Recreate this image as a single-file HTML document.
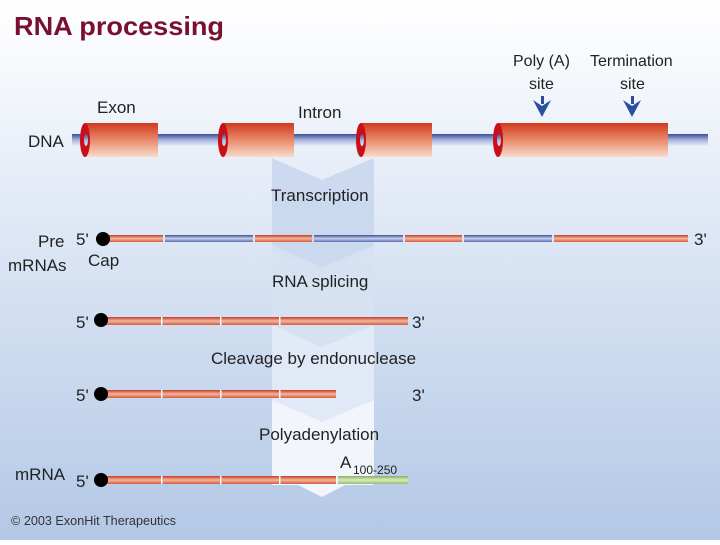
<!DOCTYPE html>
<html><head><meta charset="utf-8"><style>
html,body{margin:0;padding:0}
body{width:720px;height:540px;overflow:hidden}
text{font-family:"Liberation Sans",sans-serif}
</style></head><body>
<svg width="720" height="540" viewBox="0 0 720 540" xmlns="http://www.w3.org/2000/svg">
<defs>
<linearGradient id="bg" x1="0" y1="0" x2="0" y2="1">
<stop offset="0" stop-color="#ffffff"/><stop offset="0.15" stop-color="#f4f7fc"/><stop offset="0.5" stop-color="#d8e3f3"/><stop offset="1" stop-color="#b3c8e6"/></linearGradient>
<linearGradient id="cyl" x1="0" y1="0" x2="0" y2="1">
<stop offset="0" stop-color="#d03a1e"/><stop offset="0.5" stop-color="#e9896b"/><stop offset="1" stop-color="#f8dccc"/></linearGradient>
<linearGradient id="tube" x1="0" y1="0" x2="0" y2="1">
<stop offset="0" stop-color="#3a4f9a"/><stop offset="0.5" stop-color="#a8b4dc"/><stop offset="1" stop-color="#e8ecf8"/></linearGradient>
<linearGradient id="rr" x1="0" y1="0" x2="0" y2="1">
<stop offset="0" stop-color="#c83a20"/><stop offset="0.5" stop-color="#f0b8a0"/><stop offset="1" stop-color="#d85a3a"/></linearGradient>
<linearGradient id="bb" x1="0" y1="0" x2="0" y2="1">
<stop offset="0" stop-color="#3a4f9a"/><stop offset="0.5" stop-color="#c8d0ec"/><stop offset="1" stop-color="#5a6db0"/></linearGradient>
<linearGradient id="gg" x1="0" y1="0" x2="0" y2="1">
<stop offset="0" stop-color="#8ab060"/><stop offset="0.5" stop-color="#d8ecc0"/><stop offset="1" stop-color="#98bc70"/></linearGradient>
</defs>
<rect width="720" height="540" fill="url(#bg)"/>
<!-- chevron column -->
<polygon points="272,158 322,180 374,158 374,250 322,272 272,250" fill="#c9d7ee" opacity="0.9"/>
<polygon points="272,245 322,267 374,245 374,330 322,352 272,330" fill="#d6e1f2" opacity="0.9"/>
<polygon points="272,325 322,347 374,325 374,405 322,427 272,405" fill="#e2eaf6" opacity="0.95"/>
<polygon points="272,400 322,422 374,400 374,485 345,485 322,497 298,485 272,485" fill="#f2f6fc"/>
<text x="14" y="35" font-size="26" font-weight="bold" fill="#7a1030" textLength="210" lengthAdjust="spacingAndGlyphs">RNA processing</text>
<!-- DNA -->
<rect x="72" y="134" width="636" height="12" fill="url(#tube)"/>
<g>
<rect x="85" y="123" width="73" height="34" fill="url(#cyl)"/><ellipse cx="85" cy="140" rx="5" ry="17" fill="#c8101a"/><ellipse cx="86" cy="140" rx="2" ry="6" fill="url(#tube)"/>
<rect x="223" y="123" width="71" height="34" fill="url(#cyl)"/><ellipse cx="223" cy="140" rx="5" ry="17" fill="#c8101a"/><ellipse cx="224" cy="140" rx="2" ry="6" fill="url(#tube)"/>
<rect x="361" y="123" width="71" height="34" fill="url(#cyl)"/><ellipse cx="361" cy="140" rx="5" ry="17" fill="#c8101a"/><ellipse cx="362" cy="140" rx="2" ry="6" fill="url(#tube)"/>
<rect x="498" y="123" width="170" height="34" fill="url(#cyl)"/><ellipse cx="498" cy="140" rx="5" ry="17" fill="#c8101a"/><ellipse cx="499" cy="140" rx="2" ry="6" fill="url(#tube)"/>
</g>
<text x="28" y="147" font-size="17" fill="#222">DNA</text>
<text x="97" y="113" font-size="17" fill="#222">Exon</text>
<text x="298" y="118" font-size="17" fill="#222">Intron</text>
<text x="513" y="66" font-size="16" fill="#222">Poly (A)</text>
<text x="529" y="89" font-size="16" fill="#222">site</text>
<text x="590" y="66" font-size="16" fill="#222">Termination</text>
<text x="620" y="89" font-size="16" fill="#222">site</text>
<g fill="#2c4ea0">
<rect x="541" y="96" width="3" height="8"/><polygon points="533,100 542,117 551,100 542,106"/>
<rect x="631" y="96" width="3" height="8"/><polygon points="623,100 632,117 641,100 632,106"/>
</g>
<text x="271" y="201" font-size="17" fill="#222">Transcription</text>
<!-- pre-mRNA -->
<g>
<rect x="103" y="235" width="60" height="7" fill="url(#rr)"/>
<rect x="165" y="235" width="88" height="7" fill="url(#bb)"/>
<rect x="255" y="235" width="57" height="7" fill="url(#rr)"/>
<rect x="314" y="235" width="89" height="7" fill="url(#bb)"/>
<rect x="405" y="235" width="57" height="7" fill="url(#rr)"/>
<rect x="464" y="235" width="88" height="7" fill="url(#bb)"/>
<rect x="554" y="235" width="134" height="7" fill="url(#rr)"/>
<circle cx="103" cy="239" r="7" fill="#000"/>
</g>
<text x="38" y="247" font-size="17" fill="#222">Pre</text>
<text x="8" y="271" font-size="17" fill="#222">mRNAs</text>
<text x="76" y="245" font-size="17" fill="#222">5'</text>
<text x="88" y="266" font-size="17" fill="#222">Cap</text>
<text x="694" y="245" font-size="17" fill="#222">3'</text>
<text x="272" y="287" font-size="17" fill="#222">RNA splicing</text>
<!-- spliced -->
<rect x="103" y="317" width="305" height="8" fill="url(#rr)"/>
<g fill="#f4f7fc"><rect x="161" y="317" width="1.5" height="8"/><rect x="220" y="317" width="1.5" height="8"/><rect x="279" y="317" width="1.5" height="8"/></g>
<circle cx="101" cy="320" r="7" fill="#000"/>
<text x="76" y="328" font-size="17" fill="#222">5'</text>
<text x="412" y="328" font-size="17" fill="#222">3'</text>
<text x="211" y="364" font-size="17" fill="#222">Cleavage by endonuclease</text>
<!-- cleaved -->
<rect x="103" y="390" width="233" height="8" fill="url(#rr)"/>
<g fill="#f4f7fc"><rect x="161" y="390" width="1.5" height="8"/><rect x="220" y="390" width="1.5" height="8"/><rect x="279" y="390" width="1.5" height="8"/></g>
<circle cx="101" cy="394" r="7" fill="#000"/>
<text x="76" y="401" font-size="17" fill="#222">5'</text>
<text x="412" y="401" font-size="17" fill="#222">3'</text>
<text x="259" y="440" font-size="17" fill="#222">Polyadenylation</text>
<text x="340" y="468" font-size="17" fill="#222">A</text>
<text x="353" y="474" font-size="12" fill="#222">100-250</text>
<!-- mRNA -->
<rect x="103" y="476" width="233" height="8" fill="url(#rr)"/>
<rect x="338" y="476" width="70" height="8" fill="url(#gg)"/>
<g fill="#f4f7fc"><rect x="161" y="476" width="1.5" height="8"/><rect x="220" y="476" width="1.5" height="8"/><rect x="279" y="476" width="1.5" height="8"/></g>
<circle cx="101" cy="480" r="7" fill="#000"/>
<text x="15" y="480" font-size="17" fill="#222">mRNA</text>
<text x="76" y="487" font-size="17" fill="#222">5'</text>
<text x="11" y="525" font-size="13" fill="#333" textLength="165" lengthAdjust="spacingAndGlyphs">© 2003 ExonHit Therapeutics</text>
</svg>
</body></html>
